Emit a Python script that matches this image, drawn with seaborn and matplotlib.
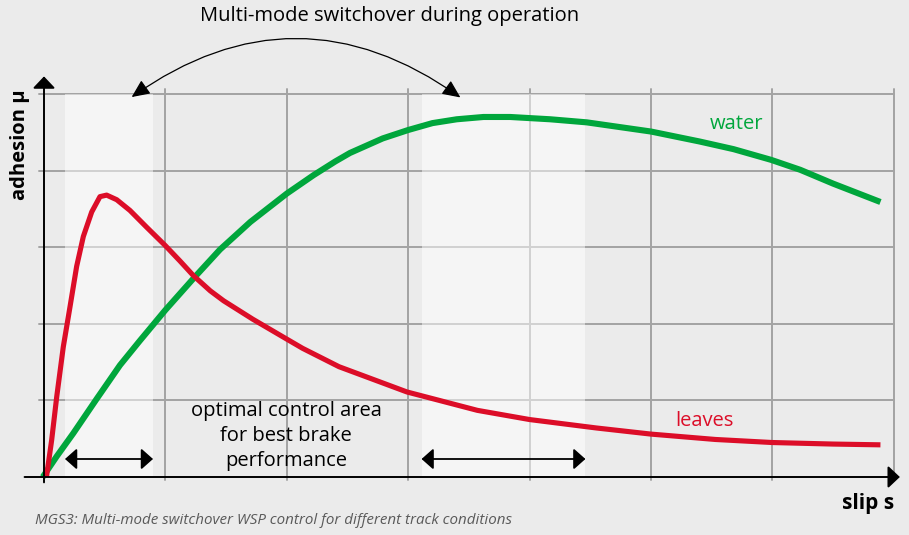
import numpy as np
import pandas as pd
import matplotlib
matplotlib.use("Agg")
import matplotlib.pyplot as plt
from matplotlib import font_manager
import seaborn as sns

# curve values (slip and adhesion in grid units)
leaves_slip = [0.02, 0.063, 0.105, 0.159, 0.214, 0.269, 0.324, 0.393, 0.461, 0.516,
               0.599, 0.708, 0.846, 1.0, 1.12, 1.23, 1.37, 1.48, 1.72, 2.0, 2.13,
               2.43, 2.99, 3.57, 4.0, 4.55, 5.0, 5.53, 6.0, 6.5, 6.89]
leaves_mu = [0.0, 0.48, 1.05, 1.70, 2.22, 2.75, 3.14, 3.46, 3.66, 3.68,
             3.62, 3.48, 3.26, 3.02, 2.82, 2.63, 2.43, 2.30, 2.06, 1.80, 1.68,
             1.44, 1.11, 0.87, 0.75, 0.64, 0.56, 0.49, 0.45, 0.43, 0.42]
water_slip = [-0.01, 0.105, 0.241, 0.434, 0.626, 0.79, 1.0, 1.23, 1.45, 1.70, 2.0,
              2.22, 2.40, 2.52, 2.79, 3.0, 3.2, 3.4, 3.62, 3.84, 4.17, 4.47, 5.0,
              5.4, 5.68, 5.99, 6.23, 6.5, 6.89]
water_mu = [0.0, 0.27, 0.57, 1.02, 1.46, 1.78, 2.18, 2.59, 2.97, 3.33, 3.70,
            3.94, 4.12, 4.23, 4.42, 4.53, 4.62, 4.67, 4.70, 4.70, 4.67, 4.63, 4.51,
            4.38, 4.28, 4.14, 4.01, 3.83, 3.59]

zones = [(0.173, 0.898), (3.11, 4.46)]   # optimal control areas
x_grid = [1, 2, 3, 4, 5, 6, 7]
y_grid = [1, 2, 3, 4, 5]

bg = "#ebebeb"
red = "#dc0d28"
green = "#00a63c"

sns.set_style("white")
plt.rcParams["font.family"] = ["Open Sans", "DejaVu Sans"]
plt.rcParams["text.color"] = "black"

# condensed font for the caption if there is one
names = {f.name for f in font_manager.fontManager.ttflist}
cap_font, cap_size = ["Open Sans", "DejaVu Sans"], 10.9
for cand in ["Liberation Sans Narrow", "DejaVu Sans Condensed"]:
    if cand in names:
        cap_font, cap_size = [cand, "DejaVu Sans"], 12
        break

fig = plt.figure(figsize=(9.09, 5.35), dpi=100, facecolor=bg)
ax = fig.add_axes([44 / 909, 58 / 535, 849.8 / 909, 383 / 535])
ax.set_facecolor(bg)
ax.set_xlim(0, 7)
ax.set_ylim(0, 5)
ax.axis("off")

# grid, a little longer than the data area
for gx in x_grid:
    ax.plot([gx, gx], [-0.04, 5.065], color="#a3a3a3", lw=1.4, clip_on=False, zorder=1)
for gy in y_grid:
    ax.plot([-0.04, 7.0], [gy, gy], color="#a3a3a3", lw=1.4, clip_on=False, zorder=1)

# light shaded zones over the grid
for x0, x1 in zones:
    ax.axvspan(x0, x1, ymin=0, ymax=1.003, color="white", alpha=0.5, lw=0, zorder=2)

# curves
leaves = pd.DataFrame({"slip": leaves_slip, "mu": leaves_mu})
water = pd.DataFrame({"slip": water_slip, "mu": water_mu})
sns.lineplot(data=water, x="slip", y="mu", color=green, lw=4.4, ax=ax,
             sort=False, zorder=4, clip_on=False)
sns.lineplot(data=leaves, x="slip", y="mu", color=red, lw=3.7, ax=ax,
             sort=False, zorder=5, clip_on=False)
for ln in ax.lines[-2:]:
    ln.set_solid_capstyle("butt")
    ln.set_solid_joinstyle("round")

head = "-|>,head_length=0.36,head_width=0.34"
both = "<|-|>,head_length=0.36,head_width=0.32"

# axes with arrow heads
ax.annotate("", xy=(7.05, 0), xytext=(-0.16, 0), annotation_clip=False,
            arrowprops=dict(arrowstyle=head, color="black", lw=1.4,
                            mutation_scale=20, shrinkA=0, shrinkB=0), zorder=6)
ax.annotate("", xy=(0, 5.23), xytext=(0, -0.07), annotation_clip=False,
            arrowprops=dict(arrowstyle=head, color="black", lw=1.4,
                            mutation_scale=20, shrinkA=0, shrinkB=0), zorder=6)

# control area arrows
for x0, x1 in zones:
    ax.annotate("", xy=(x1, 0.235), xytext=(x0, 0.235), annotation_clip=False,
                arrowprops=dict(arrowstyle=both, color="black", lw=1.3,
                                mutation_scale=20, shrinkA=0, shrinkB=0), zorder=6)

# curved switchover arrow
ax.annotate("", xy=(3.43, 4.955), xytext=(0.722, 4.96), annotation_clip=False,
            arrowprops=dict(arrowstyle="<|-|>,head_length=0.55,head_width=0.25",
                            color="black", lw=0.9, mutation_scale=20,
                            shrinkA=0, shrinkB=0,
                            connectionstyle="arc3,rad=-0.355"), zorder=6)

# texts
fig.text(390 / 909, 1 - 16 / 535, "Multi-mode switchover during operation",
         ha="center", va="center", fontsize=14.5)
fig.text(20 / 909, 1 - 145 / 535, "adhesion μ", rotation=90, ha="center", va="center",
         fontsize=14.5, fontweight="bold")
fig.text(868 / 909, 1 - 504 / 535, "slip s", ha="center", va="center",
         fontsize=15, fontweight="bold")
fig.text(737 / 909, 1 - 124 / 535, "water", ha="center", va="center",
         fontsize=14.5, color=green)
fig.text(704 / 909, 1 - 421 / 535, "leaves", ha="center", va="center",
         fontsize=14.5, color=red)
fig.text(286 / 909, 1 - 436 / 535, "optimal control area\nfor best brake\nperformance",
         ha="center", va="center", fontsize=14.5, linespacing=1.33)
fig.text(35 / 909, 1 - 521 / 535,
         "MGS3: Multi-mode switchover WSP control for different track conditions",
         ha="left", va="center", fontsize=cap_size, style="italic", color="#5a5a5a",
         family=cap_font)

fig.savefig("out.png", dpi=100, facecolor=bg)
